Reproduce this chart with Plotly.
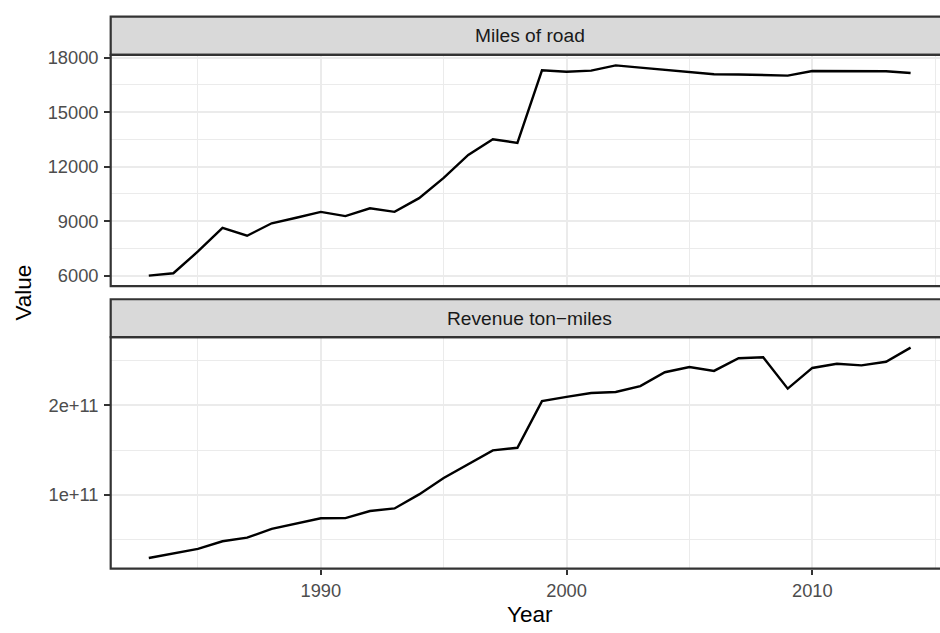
import plotly.graph_objects as go

# ---- data -------------------------------------------------------------
years = list(range(1983, 2015))

miles_of_road = [
    6000, 6130, 7330, 8630, 8195, 8880, 9185, 9510, 9275, 9705,
    9510, 10265, 11380, 12640, 13500, 13305, 17300, 17225, 17280, 17570,
    17445, 17335, 17210, 17085, 17070, 17045, 17010, 17260, 17245, 17245,
    17245, 17155,
]

revenue_ton_miles = [
    29.7e9, 34.4e9, 39.9e9, 48.4e9, 52.4e9, 62.3e9, 67.8e9, 74.0e9, 74.2e9, 82.1e9,
    85.0e9, 100.7e9, 119.0e9, 134.8e9, 149.8e9, 152.7e9, 204.8e9, 209.5e9, 213.9e9, 215.0e9,
    221.6e9, 237.0e9, 242.9e9, 238.5e9, 252.7e9, 253.8e9, 218.7e9, 241.8e9, 246.5e9, 244.7e9,
    248.7e9, 264.5e9,
]

panel_titles = ["Miles of road", "Revenue ton\u2212miles"]

x_major = [1990, 2000, 2010]
x_minor = [1985, 1995, 2005, 2015]

top_major = [6000, 9000, 12000, 15000, 18000]
top_labels = ["6000", "9000", "12000", "15000", "18000"]
top_minor = [7500, 10500, 13500, 16500]

bot_major = [1e11, 2e11]
bot_labels = ["1e+11", "2e+11"]
bot_minor = [5e10, 1.5e11, 2.5e11]

# ---- geometry (pixels) ------------------------------------------------
W, H = 940, 633
panel_left = 110.7
panel_right_full = 948.7          # panel extends slightly past the page edge
top_strip = (8.8, 47.5)
top_panel = (47.5, 281.7)
bot_strip = (295.0, 333.3)
bot_panel = (333.3, 567.7)

def py(v):
    return 1 - v / H

def px(v):
    return v / W

def expand(vals, mult=0.05):
    lo, hi = min(vals), max(vals)
    pad = (hi - lo) * mult
    return lo - pad, hi + pad

x_lo, x_hi = expand(years)
x_hi_visible = x_lo + (x_hi - x_lo) * (W - panel_left) / (panel_right_full - panel_left)

FONT = "Liberation Sans, Arial, Helvetica, sans-serif"
GRID = "#EBEBEB"
DARK = "#333333"
TICKTXT = "#4D4D4D"
TICK_SIZE = 18.3
STRIP_SIZE = 19.2
TITLE_SIZE = 22.5

fig = go.Figure()
fig.add_trace(go.Scatter(x=years, y=miles_of_road, mode="lines",
                         line=dict(color="black", width=2.4),
                         xaxis="x", yaxis="y", showlegend=False,
                         hoverinfo="x+y"))
fig.add_trace(go.Scatter(x=years, y=revenue_ton_miles, mode="lines",
                         line=dict(color="black", width=2.4),
                         xaxis="x2", yaxis="y2", showlegend=False,
                         hoverinfo="x+y"))

common_x = dict(
    range=[x_lo, x_hi_visible], domain=[px(panel_left), 1.0],
    tickvals=x_major, showgrid=True, gridcolor=GRID, gridwidth=2.2,
    minor=dict(tickvals=x_minor, showgrid=True, gridcolor=GRID, gridwidth=1.1, ticks=""),
    zeroline=False, showline=False,
    tickfont=dict(family=FONT, size=TICK_SIZE, color=TICKTXT),
)

def y_axis(vals, panel, anchor, major, labels, minor):
    return dict(
        range=list(expand(vals)), domain=[py(panel[1]), py(panel[0])],
        anchor=anchor, tickvals=major, ticktext=labels,
        showgrid=True, gridcolor=GRID, gridwidth=2.2,
        minor=dict(tickvals=minor, showgrid=True, gridcolor=GRID, gridwidth=1.1, ticks=""),
        zeroline=False, showline=False,
        ticks="outside", ticklen=5.5, tickwidth=2, tickcolor=DARK,
        tickfont=dict(family=FONT, size=TICK_SIZE, color=TICKTXT), ticklabelstandoff=2,
    )

fig.update_layout(
    width=W, height=H,
    margin=dict(l=0, r=0, t=0, b=0),
    paper_bgcolor="white", plot_bgcolor="white",
    font=dict(family=FONT),
    xaxis=dict(common_x, anchor="y", showticklabels=False, ticks=""),
    xaxis2=dict(common_x, anchor="y2", ticks="outside", ticklen=5.5, tickwidth=2,
                tickcolor=DARK, ticklabelstandoff=0),
    yaxis=y_axis(miles_of_road, top_panel, "x", top_major, top_labels, top_minor),
    yaxis2=y_axis(revenue_ton_miles, bot_panel, "x2", bot_major, bot_labels, bot_minor),
)

shapes = []
annotations = []
for (s0, s1), (p0, p1), title in [(top_strip, top_panel, panel_titles[0]),
                                  (bot_strip, bot_panel, panel_titles[1])]:
    # strip background
    shapes.append(dict(type="rect", xref="paper", yref="paper",
                       x0=px(panel_left), x1=px(panel_right_full), y0=py(s1), y1=py(s0),
                       fillcolor="#D9D9D9", line=dict(color=DARK, width=2.2), layer="above"))
    # panel border
    shapes.append(dict(type="rect", xref="paper", yref="paper",
                       x0=px(panel_left), x1=px(panel_right_full), y0=py(p1), y1=py(p0),
                       fillcolor="rgba(0,0,0,0)", line=dict(color=DARK, width=2.2), layer="above"))
    annotations.append(dict(text=title, xref="paper", yref="paper",
                            x=px((panel_left + panel_right_full) / 2), y=py((s0 + s1) / 2),
                            xanchor="center", yanchor="middle", showarrow=False,
                            font=dict(family=FONT, size=STRIP_SIZE, color="#1A1A1A")))

annotations.append(dict(text="Year", xref="paper", yref="paper",
                        x=px((panel_left + panel_right_full) / 2), y=py(614),
                        xanchor="center", yanchor="middle", showarrow=False,
                        font=dict(family=FONT, size=TITLE_SIZE, color="black")))
annotations.append(dict(text="Value", xref="paper", yref="paper",
                        x=px(24), y=py((top_strip[0] + bot_panel[1]) / 2),
                        xanchor="center", yanchor="middle", showarrow=False, textangle=-90,
                        font=dict(family=FONT, size=TITLE_SIZE, color="black")))

fig.update_layout(shapes=shapes, annotations=annotations)

fig.write_html("out.html")
